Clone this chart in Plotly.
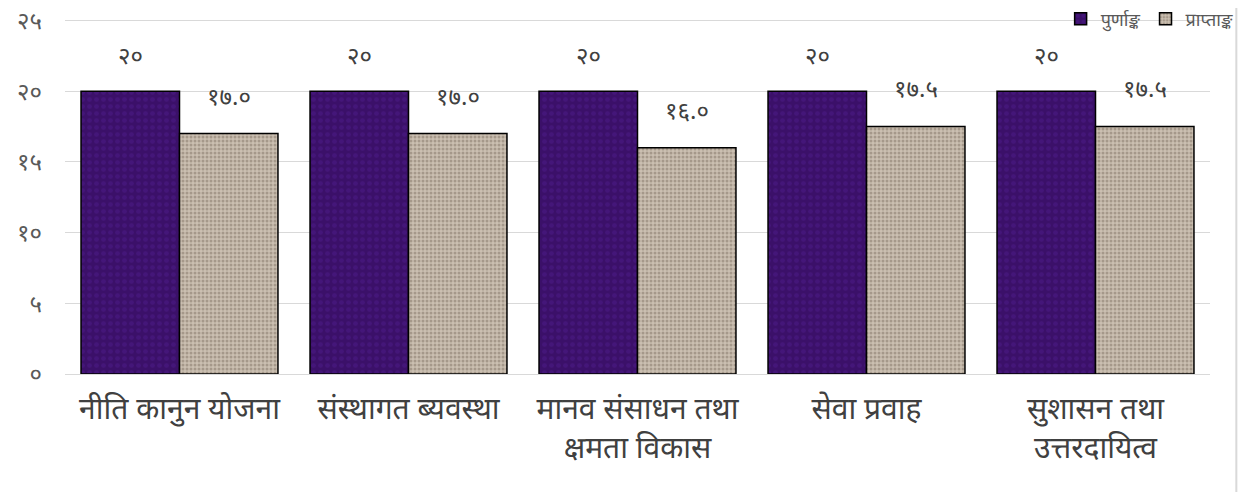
import plotly.graph_objects as go

categories = ["नीति कानुन योजना", "संस्थागत ब्यवस्था", "मानव संसाधन तथा<br>क्षमता विकास",
              "सेवा प्रवाह", "सुशासन तथा<br>उत्तरदायित्व"]
full_marks = [20, 20, 20, 20, 20]
obtained = [17.0, 17.0, 16.0, 17.5, 17.5]
full_labels = ["२०", "२०", "२०", "२०", "२०"]
obtained_labels = ["१७.०", "१७.०", "१६.०", "१७.५", "१७.५"]
tick_vals = [0, 5, 10, 15, 20, 25]
tick_text = ["०", "५", "१०", "१५", "२०", "२५"]
series_names = ["पुर्णाङ्क", "प्राप्ताङ्क"]

FONT = "Noto Sans Devanagari, Noto Sans, sans-serif"

fig = go.Figure()
fig.add_trace(go.Bar(
    x=categories, y=full_marks, name=series_names[0],
    marker=dict(color="#3e1270", line=dict(color="#000000", width=1.5),
                pattern=dict(shape=".", fgcolor="#4d1c8a", bgcolor="#3b1069", size=7, solidity=0.35)),
))
fig.add_trace(go.Bar(
    x=categories, y=obtained, name=series_names[1],
    marker=dict(color="#b8aa9a", line=dict(color="#000000", width=1.5),
                pattern=dict(shape=".", fgcolor="#7f7264", bgcolor="#cbbfb1", size=4, solidity=0.45)),
))

for i, c in enumerate(categories):
    fig.add_annotation(x=c, y=full_marks[i], text=full_labels[i], showarrow=False,
                       xshift=-49, yshift=33, font=dict(size=24, color="#404040", family=FONT))
    fig.add_annotation(x=c, y=obtained[i], text=obtained_labels[i], showarrow=False,
                       xshift=49, yshift=35, font=dict(size=24, color="#404040", family=FONT))

fig.update_layout(
    width=1250, height=492,
    margin=dict(l=57, r=48, t=11, b=126, autoexpand=False),
    paper_bgcolor="white", plot_bgcolor="white",
    barmode="group", bargap=0.14, bargroupgap=0,
    font=dict(family=FONT, color="#404040"),
    legend=dict(orientation="h", x=1.025, xanchor="right", y=1.0, yanchor="middle",
                font=dict(size=18, color="#595959"), itemwidth=30, bgcolor="rgba(0,0,0,0)",
                traceorder="normal", tracegroupgap=0),
    xaxis=dict(tickfont=dict(size=30, color="#404040"), showline=True, linecolor="#d9d9d9",
               ticks="", showgrid=False, ticklabelstandoff=8),
    yaxis=dict(range=[0, 25.1], tickvals=tick_vals, ticktext=tick_text, showgrid=True,
               gridcolor="#d9d9d9", gridwidth=1, zeroline=False, showline=False,
               tickfont=dict(size=24, color="#595959"), ticks="", ticklen=0,
               ticklabelstandoff=22, ticklabeloverflow="allow"),
)
fig.add_shape(type="line", xref="paper", yref="paper", x0=1.023, x1=1.023, y0=-0.36, y1=1.04,
              line=dict(color="#d9d9d9", width=2))

fig.write_html("out.html")
